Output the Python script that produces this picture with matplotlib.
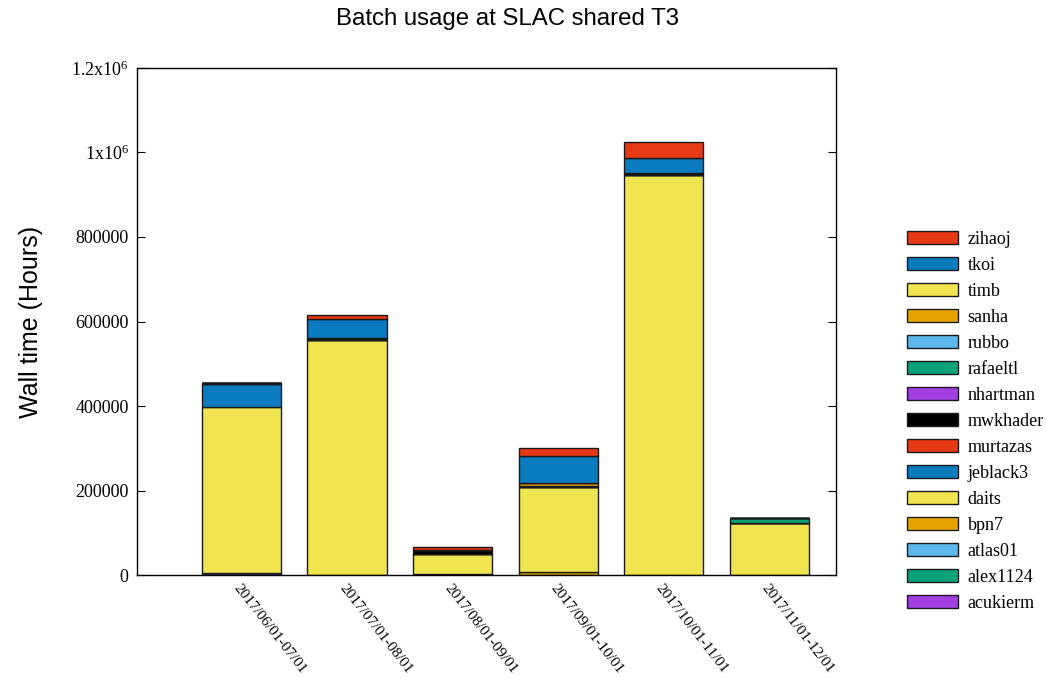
import matplotlib.pyplot as plt
import numpy as np

# periodos (un bar por mes)
periodos = ['2017/06/01-07/01', '2017/07/01-08/01', '2017/08/01-09/01',
            '2017/09/01-10/01', '2017/10/01-11/01', '2017/11/01-12/01']

# usuarios en orden de apilado (de abajo hacia arriba)
usuarios = ['acukierm', 'alex1124', 'atlas01', 'bpn7', 'daits', 'jeblack3',
            'murtazas', 'mwkhader', 'nhartman', 'rafaeltl', 'rubbo', 'sanha',
            'timb', 'tkoi', 'zihaoj']

# horas por usuario y periodo
acukierm = [4000, 0, 0, 0, 0, 0]
alex1124 = [0, 0, 0, 0, 0, 0]
atlas01 = [0, 0, 0, 0, 0, 0]
bpn7 = [0, 0, 3000, 8000, 0, 0]
daits = [393000, 557000, 48000, 200000, 947000, 124000]
jeblack3 = [54000, 0, 0, 0, 0, 0]
murtazas = [0, 0, 0, 0, 0, 0]
mwkhader = [3000, 4000, 9000, 3000, 5000, 0]
nhartman = [0, 0, 0, 0, 0, 0]
rafaeltl = [0, 0, 0, 0, 0, 12000]
rubbo = [0, 0, 0, 0, 0, 0]
sanha = [0, 0, 0, 7000, 0, 0]
timb = [0, 0, 0, 0, 0, 0]
tkoi = [0, 45000, 0, 63000, 35000, 0]
zihaoj = [0, 9000, 6000, 20000, 38000, 0]

datos = [acukierm, alex1124, atlas01, bpn7, daits, jeblack3, murtazas,
         mwkhader, nhartman, rafaeltl, rubbo, sanha, timb, tkoi, zihaoj]

# paleta tipo gnuplot (se repite cada 8)
paleta = ['#a23fe3', '#0aa07a', '#5cb8ea', '#e6a300', '#f0e450',
          '#0a7bbe', '#e63a16', '#000000']

serif = 'Liberation Serif'
sans = 'Liberation Sans'
plt.rcParams['mathtext.fontset'] = 'custom'
plt.rcParams['mathtext.rm'] = serif

fig = plt.figure(figsize=(10.46, 6.79), dpi=100)
ax = fig.add_axes([0.131, 0.153, 0.668, 0.747])

x = np.arange(len(periodos))
base = np.zeros(len(periodos))
barras = []
for i, (nombre, vals) in enumerate(zip(usuarios, datos)):
    vals = np.array(vals, dtype=float)
    b = ax.bar(x, vals, width=0.75, bottom=base, color=paleta[i % 8],
               edgecolor='#1a1a1a', linewidth=1.0, label=nombre)
    barras.append(b)
    base += vals

ax.set_xlim(-0.99, 5.63)
ax.set_ylim(0, 1.2e6)

yt = [0, 200000, 400000, 600000, 800000, 1e6, 1.2e6]
ylab = ['0', '200000', '400000', '600000', '800000',
        r'$\mathregular{1x10^{6}}$', r'$\mathregular{1.2x10^{6}}$']
ax.set_yticks(yt)
ax.set_yticklabels(ylab, fontsize=13, family=serif)
ax.tick_params(axis='y', direction='in', length=6, right=True, pad=6)
ax.set_xticks(x)
ax.set_xticklabels(periodos, rotation=-52, ha='left', va='top',
                   rotation_mode='anchor', fontsize=11, family=serif)
ax.tick_params(axis='x', length=0, pad=5)

for s in ax.spines.values():
    s.set_linewidth(1.0)

ax.set_ylabel('Wall time (Hours)', fontsize=18, family=sans, labelpad=20)
fig.text(0.485, 0.972, 'Batch usage at SLAC shared T3', fontsize=17.3,
         family=sans, ha='center', va='center')

handles = barras[::-1]
ley = ax.legend(handles, [h.get_label() for h in handles],
                loc='center left', bbox_to_anchor=(1.079, 0.303),
                frameon=False, prop={'family': serif, 'size': 13},
                handlelength=2.8, handleheight=0.72, labelspacing=0.5,
                handletextpad=0.55)

fig.savefig('out.png', dpi=100)
